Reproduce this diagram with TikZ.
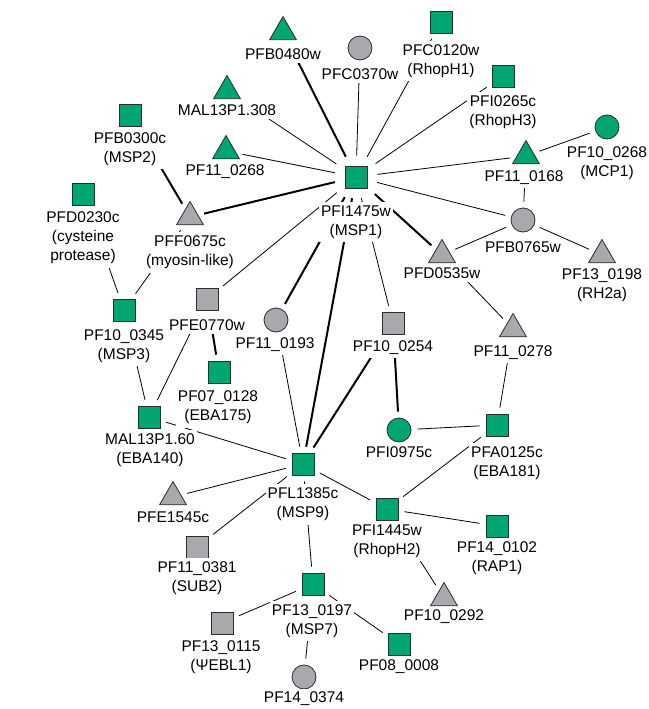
\documentclass[tikz,border=0pt]{standalone}
\usepackage{fontspec}
\setmainfont{Liberation Sans}
\usetikzlibrary{shapes.geometric}
\definecolor{grn}{RGB}{0,166,114}
\definecolor{gry}{RGB}{167,169,172}
\definecolor{outl}{RGB}{45,45,45}
\tikzset{
 sq/.style={rectangle,draw=outl,line width=0.8bp,minimum size=22bp,inner sep=0pt},
 ci/.style={circle,draw=outl,line width=0.8bp,minimum size=24bp,inner sep=0pt},
 tri/.style={regular polygon,regular polygon sides=3,draw=outl,line width=0.8bp,minimum size=31bp,inner sep=0pt},
 G/.style={fill=grn}, Y/.style={fill=gry},
 labtxt/.style={font=\fontsize{15.5bp}{19bp}\selectfont, align=center, fill=white, inner xsep=2bp, inner ysep=3.5bp},
 th/.style={line width=0.8bp, shorten >=6bp, shorten <=6bp},
 tk/.style={line width=2bp, shorten >=6bp, shorten <=6bp},
 hb/.style={shorten <=10bp},
}
\begin{document}
\begin{tikzpicture}[x=1bp,y=-1bp]
\useasboundingbox (0,0) rectangle (649,709);
% shapes
\node[sq,G] (hub) at (356,177) {};
\node[tri,G] (pfb0480) at (283,32) {};
\node[tri,G] (mal308) at (227,91) {};
\node[sq,G] (pfb0300) at (130,115) {};
\node[tri,G] (pf11268) at (226,151) {};
\node[sq,G] (pfd0230) at (83,194) {};
\node[tri,Y] (pff0675) at (190,217) {};
\node[ci,Y] (pfc0370) at (360,48) {};
\node[sq,G] (pfc0120) at (441,22) {};
\node[sq,G] (pfi0265) at (503,76) {};
\node[ci,G] (pf10268) at (607,127) {};
\node[tri,G] (pf11168) at (526,156) {};
\node[ci,Y] (pfb0765) at (523,220) {};
\node[tri,Y] (pfd0535) at (442,255) {};
\node[tri,Y] (pf13198) at (602,255) {};
\node[sq,Y] (pf10254) at (393,323) {};
\node[tri,Y] (pf11278) at (513,329) {};
\node[ci,G] (pfi0975) at (399,430) {};
\node[sq,G] (pfa0125) at (497,425) {};
\node[sq,G] (pf10345) at (124,310) {};
\node[sq,Y] (pfe0770) at (207,299) {};
\node[ci,Y] (pf11193) at (276,320) {};
\node[sq,G] (pf07128) at (219,372) {};
\node[sq,G] (mal60) at (149,417) {};
\node[sq,G] (pfl1385) at (303,464) {};
\node[tri,Y] (pfe1545) at (173,497) {};
\node[sq,Y] (pf11381) at (197,547) {};
\node[sq,G] (pfi1445) at (387,509) {};
\node[sq,G] (pf13197) at (313,584) {};
\node[sq,Y] (pf13115) at (222,623) {};
\node[ci,Y] (pf14374) at (304,677) {};
\node[sq,G] (pf08008) at (399,644) {};
\node[sq,G] (pf14102) at (497,526) {};
\node[tri,Y] (pf10292) at (444,598) {};
% edges
\draw[tk,hb] (hub) -- (pfb0480);
\draw[th,hb] (hub) -- (mal308);
\draw[th,hb] (hub) -- (pf11268);
\draw[tk,hb] (hub) -- (pff0675);
\draw[th,hb] (hub) -- (pfc0370);
\draw[th,hb] (hub) -- (pfc0120);
\draw[th,hb] (hub) -- (pfi0265);
\draw[th,hb] (hub) -- (pf11168);
\draw[th,hb] (hub) -- (pfb0765);
\draw[tk,hb] (hub) -- (pfd0535);
\draw[th,hb] (hub) -- (pf10254);
\draw[tk,hb] (hub) -- (pfl1385);
\draw[tk,hb] (hub) -- (pf11193);
\draw[th,hb] (hub) -- (pfe0770);
\draw[th] (pfb0765) -- (pfd0535);
\draw[th] (pfb0765) -- (pf13198);
\draw[th] (pfb0765) -- (pf11168);
\draw[th] (pf11168) -- (pf10268);
\draw[th] (pfd0535) -- (pf11278);
\draw[th] (pf11278) -- (pfa0125);
\draw[th] (pfa0125) -- (pfi0975);
\draw[th] (pfa0125) -- (pfi1445);
\draw[tk] (pf10254) -- (pfi0975);
\draw[tk] (pf10254) -- (pfl1385);
\draw[tk] (pfb0300) -- (pff0675);
\draw[th] (pff0675) -- (pf10345);
\draw[th] (pfd0230) -- (pf10345);
\draw[th] (pf10345) -- (mal60);
\draw[th] (pfe0770) -- (mal60);
\draw[tk] (pfe0770) -- (pf07128);
\draw[th] (pf11193) -- (pfl1385);
\draw[th] (mal60) -- (pfl1385);
\draw[th] (pfl1385) -- (pfe1545);
\draw[th] (pfl1385) -- (pf11381);
\draw[th] (pfl1385) -- (pfi1445);
\draw[th] (pfl1385) -- (pf13197);
\draw[th] (pfi1445) -- (pf14102);
\draw[th] (pfi1445) -- (pf10292);
\draw[th] (pf13197) -- (pf13115);
\draw[th] (pf13197) -- (pf14374);
\draw[th] (pf13197) -- (pf08008);
% labels
\node[labtxt] (lhub) at (356,222) {PFI1475w\\(MSP1)};
\node[labtxt] (lpfb0480) at (283,54) {PFB0480w};
\node[labtxt] (lmal308) at (227,110) {MAL13P1.308};
\node[labtxt] (lpfb0300) at (130,149) {PFB0300c\\(MSP2)};
\node[labtxt] (lpf11268) at (225,172) {PF11\_0268};
\node[labtxt] (lpfd0230) at (83,238) {PFD0230c\\(cysteine\\protease)};
\node[labtxt] (lpff0675) at (190,252.5) {PFF0675c\\(myosin-like)};
\node[labtxt] (lpfc0370) at (360,74) {PFC0370w};
\node[labtxt] (lpfc0120) at (441,61) {PFC0120w\\(RhopH1)};
\node[labtxt] (lpfi0265) at (503,112) {PFI0265c\\(RhopH3)};
\node[labtxt] (lpf10268) at (607,163) {PF10\_0268\\(MCP1)};
\node[labtxt] (lpf11168) at (524,178) {PF11\_0168};
\node[labtxt] (lpfb0765) at (523,247) {PFB0765w};
\node[labtxt] (lpfd0535) at (442,273) {PFD0535w};
\node[labtxt] (lpf13198) at (602,285) {PF13\_0198\\(RH2a)};
\node[labtxt] (lpf10254) at (393,348) {PF10\_0254};
\node[labtxt] (lpf11278) at (513,353) {PF11\_0278};
\node[labtxt] (lpfi0975) at (399,452) {PFI0975c};
\node[labtxt] (lpfa0125) at (507,463.5) {PFA0125c\\(EBA181)};
\node[labtxt] (lpf10345) at (124,346) {PF10\_0345\\(MSP3)};
\node[labtxt] (lpfe0770) at (207,325) {PFE0770w};
\node[labtxt] (lpf11193) at (275,345) {PF11\_0193};
\node[labtxt] (lpf07128) at (218,407.5) {PF07\_0128\\(EBA175)};
\node[labtxt] (lmal60) at (150,450) {MAL13P1.60\\(EBA140)};
\node[labtxt] (lpfl1385) at (303,504.5) {PFL1385c\\(MSP9)};
\node[labtxt] (lpfe1545) at (173,517) {PFE1545c};
\node[labtxt] (lpf11381) at (197,578.5) {PF11\_0381\\(SUB2)};
\node[labtxt] (lpfi1445) at (387,541) {PFI1445w\\(RhopH2)};
\node[labtxt] (lpf13197) at (312,621) {PF13\_0197\\(MSP7)};
\node[labtxt] (lpf13115) at (221,657.5) {PF13\_0115\\(ΨEBL1)};
\node[labtxt] (lpf14374) at (304,699) {PF14\_0374};
\node[labtxt] (lpf08008) at (399,667) {PF08\_0008};
\node[labtxt] (lpf14102) at (497,558) {PF14\_0102\\(RAP1)};
\node[labtxt] (lpf10292) at (444,617) {PF10\_0292};
\end{tikzpicture}
\end{document}
